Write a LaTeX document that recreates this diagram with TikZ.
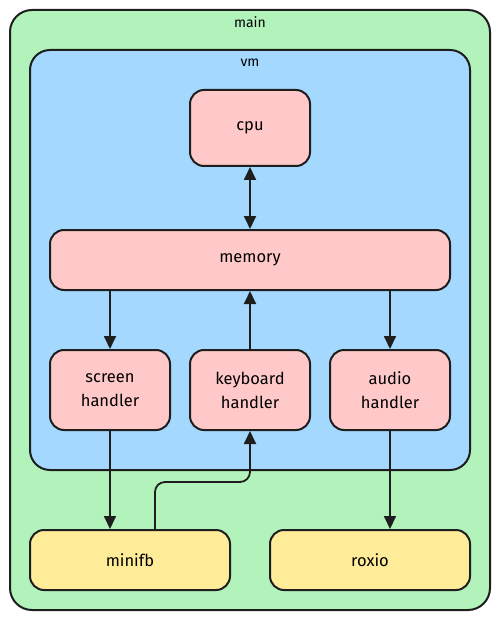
\documentclass[tikz,border=0pt]{standalone}
\usepackage{fontspec}
\setmainfont{Fira Sans}
\usetikzlibrary{arrows.meta}
\definecolor{stroke}{HTML}{1E1E1E}
\definecolor{mainfill}{HTML}{B2F2BB}
\definecolor{vmfill}{HTML}{A5D8FF}
\definecolor{redfill}{HTML}{FFC9C9}
\definecolor{yelfill}{HTML}{FFEC99}
\tikzset{
  container/.style={draw=stroke, line width=2pt, rounded corners=22pt},
  box/.style={draw=stroke, line width=2pt, rounded corners=14pt, fill=redfill, font=\fontsize{16.5}{24}\selectfont, align=center, inner sep=0pt},
  ybox/.style={box, fill=yelfill},
  conn/.style={draw=stroke, line width=1.8pt, -{Triangle[length=13pt,width=12pt]}},
  biconn/.style={draw=stroke, line width=1.8pt, {Triangle[length=13pt,width=12pt]}-{Triangle[length=13pt,width=12pt]}},
  lbl/.style={font=\fontsize{14}{16}\selectfont, inner sep=0pt}
}
\begin{document}
\begin{tikzpicture}[x=1pt,y=-1pt]
\useasboundingbox (0,0) rectangle (500,620);
% main container
\draw[container, fill=mainfill] (10,10) rectangle (490,610);
\node[lbl] (mainlbl) at (250,22) {main};
% vm container
\draw[container, rounded corners=20pt, fill=vmfill] (30,50) rectangle (470,470);
\node[lbl] (vmlbl) at (250,63) {vm};
% boxes
\node[box, minimum width=120pt, minimum height=76pt] (cpu) at (250,128) {cpu};
\node[box, minimum width=400pt, minimum height=60pt] (memory) at (250,260) {memory};
\node[box, minimum width=120pt, minimum height=80pt] (screen) at (110,390) {screen\\handler};
\node[box, minimum width=120pt, minimum height=80pt] (keyboard) at (250,390) {keyboard\\handler};
\node[box, minimum width=120pt, minimum height=80pt] (audio) at (390,390) {audio\\handler};
\node[ybox, minimum width=200pt, minimum height=60pt] (minifb) at (130,560) {minifb};
\node[ybox, minimum width=200pt, minimum height=60pt] (roxio) at (370,560) {roxio};
% connectors
\draw[biconn] (cpu.south) -- (memory.north);
\draw[conn] (memory.south -| screen.north) -- (screen.north);
\draw[conn] (keyboard.north) -- (memory.south -| keyboard.north);
\draw[conn] (memory.south -| audio.north) -- (audio.north);
\draw[conn] (screen.south) -- (minifb.north -| screen.south);
\coordinate (mfbout) at (155,530);
\draw[conn, rounded corners=10pt] (mfbout) -- (155,482) -- (250,482) -- (keyboard.south);
\draw[conn] (audio.south) -- (roxio.north -| audio.south);
\end{tikzpicture}
\end{document}
